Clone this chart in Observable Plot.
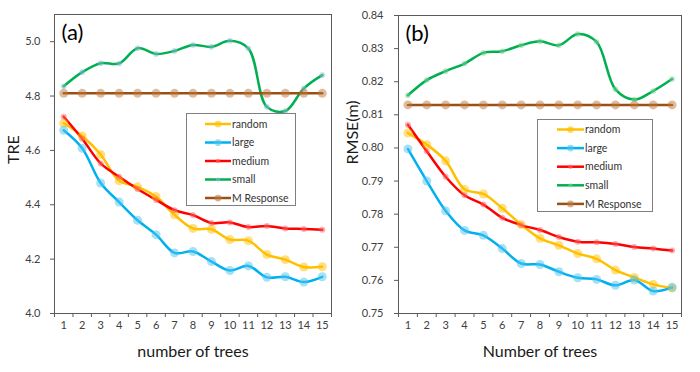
<!DOCTYPE html>
<html>
<head>
<meta charset="utf-8">
<script src="https://cdn.jsdelivr.net/npm/d3@7"></script>
<script src="https://cdn.jsdelivr.net/npm/@observablehq/plot@0.6"></script>
<style>
  body { margin: 0; background: white; }
  #wrap { position: relative; width: 700px; height: 372px; overflow: hidden; background: white; }
  #wrap > svg, #wrap > div { position: absolute; }
  .legend { border: 1px solid #7f7f7f; background: white; box-sizing: border-box; }
</style>
</head>
<body>
<div id="wrap"></div>
<script>
const trees = [1, 2, 3, 4, 5, 6, 7, 8, 9, 10, 11, 12, 13, 14, 15];
const seriesNames = ["random", "large", "medium", "small", "M Response"];
const lineColors = ["#FFC000", "#00B0F0", "#FF0000", "#00B050", "#9a4f14"];
const dotColorsA = ["#FFC000", "#4cc3f0", "#ff6060", "#7fb9d2", "#c07a3c"];
const dotColorsB = ["#FFC000", "#4cc3f0", "#ff6060", "#6fd08f", "#c07a3c"];
const dotRadii = [4.5, 4.5, 3, 2.8, 4.5];

// Panel (a): TRE
const treRandom = [4.70, 4.653, 4.585, 4.488, 4.466, 4.430, 4.363, 4.313, 4.310, 4.272, 4.268, 4.217, 4.198, 4.171, 4.172];
const treLarge  = [4.674, 4.608, 4.480, 4.410, 4.343, 4.290, 4.223, 4.228, 4.191, 4.158, 4.175, 4.133, 4.135, 4.116, 4.135];
const treMedium = [4.724, 4.643, 4.552, 4.503, 4.458, 4.418, 4.380, 4.362, 4.333, 4.335, 4.318, 4.322, 4.313, 4.311, 4.308];
const treSmall  = [4.836, 4.888, 4.921, 4.920, 4.976, 4.955, 4.966, 4.988, 4.981, 5.003, 4.975, 4.760, 4.745, 4.828, 4.877];
const treMResp  = [4.81, 4.81, 4.81, 4.81, 4.81, 4.81, 4.81, 4.81, 4.81, 4.81, 4.81, 4.81, 4.81, 4.81, 4.81];
const treTicks = [4.0, 4.2, 4.4, 4.6, 4.8, 5.0];

// Panel (b): RMSE(m)
const rmseRandom = [0.8045, 0.8010, 0.7961, 0.7875, 0.7861, 0.7818, 0.7769, 0.7727, 0.7706, 0.7681, 0.7665, 0.7631, 0.7609, 0.7588, 0.7577];
const rmseLarge  = [0.7997, 0.7900, 0.7810, 0.7751, 0.7736, 0.7696, 0.7651, 0.7648, 0.7626, 0.7608, 0.7603, 0.7585, 0.7601, 0.7568, 0.7579];
const rmseMedium = [0.8070, 0.7990, 0.7913, 0.7857, 0.7829, 0.7789, 0.7767, 0.7752, 0.7731, 0.7717, 0.7715, 0.7710, 0.7701, 0.7696, 0.7690];
const rmseSmall  = [0.8159, 0.8205, 0.8232, 0.8255, 0.8287, 0.8292, 0.8310, 0.8322, 0.8310, 0.8344, 0.8320, 0.8177, 0.8146, 0.8172, 0.8208];
const rmseMResp  = [0.813, 0.813, 0.813, 0.813, 0.813, 0.813, 0.813, 0.813, 0.813, 0.813, 0.813, 0.813, 0.813, 0.813, 0.813];
const rmseTicks = [0.75, 0.76, 0.77, 0.78, 0.79, 0.80, 0.81, 0.82, 0.83, 0.84];

const FONT = "Lato, 'Open Sans', sans-serif";
const boundaries = trees.map(t => t - 0.5).concat([trees[trees.length - 1] + 0.5]);

function panel(cfg) {
  const series = cfg.data;
  const marks = [
    Plot.frame({stroke: "#5a5a5a", strokeWidth: 1}),
    Plot.axisY({ticks: cfg.yTicks, tickSize: 4, tickPadding: cfg.tickPadY, tickFormat: cfg.yFmt,
      fontSize: 11, fill: "#404040", stroke: "#5a5a5a", label: null}),
    Plot.axisX({ticks: boundaries, tickSize: 4, tickFormat: () => "", stroke: "#5a5a5a", label: null}),
    Plot.axisX({ticks: trees, tickSize: 0, tickPadding: 8, tickFormat: d => String(d),
      fontSize: 11, fill: "#404040", label: null})
  ];
  series.forEach((vals, i) => {
    const rows = vals.map((v, j) => ({x: trees[j], y: v}));
    marks.push(Plot.line(rows, {x: "x", y: "y", stroke: lineColors[i], strokeWidth: 2.5, curve: "catmull-rom"}));
  });
  series.forEach((vals, i) => {
    const rows = vals.map((v, j) => ({x: trees[j], y: v}));
    marks.push(Plot.dot(rows, {x: "x", y: "y", r: dotRadii[i], fill: cfg.dotColors[i], fillOpacity: 0.5, stroke: "none"}));
  });
  marks.push(
    Plot.text([cfg.ylabel], {text: d => d, frameAnchor: "left", dx: -cfg.ylabelDx, rotate: -90, fontSize: 16, fill: "#1a1a1a"}),
    Plot.text([cfg.xlabel], {text: d => d, frameAnchor: "bottom", lineAnchor: "middle", dy: 38, fontSize: 16, fill: "#1a1a1a"}),
    Plot.text([cfg.tag], {text: d => d, frameAnchor: "top-left", textAnchor: "start", lineAnchor: "top", dx: 7, dy: 10, fontSize: 22, fill: "#000"})
  );
  return Plot.plot({
    width: 350, height: 372,
    marginLeft: cfg.ml, marginRight: cfg.mr, marginTop: cfg.mt, marginBottom: cfg.mb,
    style: {fontFamily: FONT, background: "transparent", overflow: "visible"},
    x: {domain: [0.5, 15.5]},
    y: {domain: cfg.yDomain},
    marks
  });
}

function legend(cfg) {
  const div = document.createElement("div");
  div.className = "legend";
  Object.assign(div.style, {left: cfg.left + "px", top: cfg.top + "px", width: cfg.w + "px", height: cfg.h + "px"});
  const svg = d3.create("svg").attr("width", cfg.w - 2).attr("height", cfg.h - 2)
    .style("position", "absolute").style("left", "0").style("top", "0");
  seriesNames.forEach((name, i) => {
    const y = cfg.y0 + i * cfg.dy;
    svg.append("line").attr("x1", cfg.x0).attr("x2", cfg.x1).attr("y1", y).attr("y2", y)
      .attr("stroke", lineColors[i]).attr("stroke-width", 2.5);
    svg.append("circle").attr("cx", (cfg.x0 + cfg.x1) / 2).attr("cy", y).attr("r", dotRadii[i] * 0.75)
      .attr("fill", cfg.dotColors[i]).attr("fill-opacity", 0.6);
    svg.append("text").attr("x", cfg.x1 + 1).attr("y", y).attr("dy", "0.35em")
      .attr("font-family", FONT).attr("font-size", 10.5).attr("fill", "#333").text(name);
  });
  div.appendChild(svg.node());
  return div;
}

const wrap = document.getElementById("wrap");
const a = panel({
  data: [treRandom, treLarge, treMedium, treSmall, treMResp],
  yDomain: [4.0, 5.1], yTicks: treTicks, yFmt: d3.format(".1f"), tickPadY: 10,
  ylabel: "TRE", xlabel: "number of trees", tag: "(a)", ylabelDx: 41,
  ml: 54, mr: 19, mt: 14, mb: 59, dotColors: dotColorsA
});
a.style.left = "0px"; a.style.top = "0px";
wrap.appendChild(a);
const b = panel({
  data: [rmseRandom, rmseLarge, rmseMedium, rmseSmall, rmseMResp],
  yDomain: [0.75, 0.84], yTicks: rmseTicks, yFmt: d3.format(".2f"), tickPadY: 11,
  ylabel: "RMSE(m)", xlabel: "Number of trees", tag: "(b)", ylabelDx: 46,
  ml: 48, mr: 19, mt: 15, mb: 59, dotColors: dotColorsB
});
b.style.left = "350px"; b.style.top = "0px";
wrap.appendChild(b);

wrap.appendChild(legend({left: 186, top: 113, w: 110, h: 93, x0: 18, x1: 44, y0: 10, dy: 18.5, dotColors: dotColorsA}));
wrap.appendChild(legend({left: 537, top: 119, w: 116, h: 93, x0: 19, x1: 46, y0: 9.5, dy: 18.6, dotColors: dotColorsB}));
</script>
</body>
</html>
